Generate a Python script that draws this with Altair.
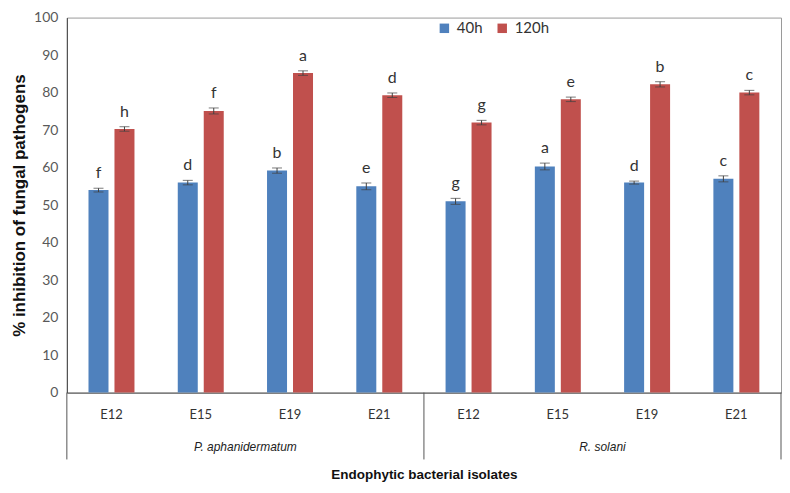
import altair as alt
import pandas as pd

pathogens = ["P. aphanidermatum", "R. solani"]
isolates = ["E12", "E15", "E19", "E21"]
series = ["40h", "120h"]

v40 = [54.0, 56.0, 59.2, 55.0, 51.0, 60.3, 56.0, 57.0]
v120 = [70.3, 75.1, 85.2, 79.3, 72.0, 78.2, 82.2, 80.0]
e40 = [0.5, 0.6, 0.7, 0.9, 0.8, 0.9, 0.4, 0.8]
e120 = [0.6, 0.8, 0.6, 0.6, 0.6, 0.6, 0.7, 0.6]
l40 = ["f", "d", "b", "e", "g", "a", "d", "c"]
l120 = ["h", "f", "a", "d", "g", "e", "b", "c"]
yticks = [0, 10, 20, 30, 40, 50, 60, 70, 80, 90, 100]

slots = [p + "|" + i for p in pathogens for i in isolates]

rows = []
for k, s in enumerate(slots):
    rows.append(dict(slot=s, series="40h", value=v40[k], lo=v40[k] - e40[k], hi=v40[k] + e40[k], letter=l40[k]))
    rows.append(dict(slot=s, series="120h", value=v120[k], lo=v120[k] - e120[k], hi=v120[k] + e120[k], letter=l120[k]))
df = pd.DataFrame(rows)

# group separators (slot index boundaries) and group centres
bounds = pd.DataFrame({"pos": [0, 4, 8]})
groups = pd.DataFrame({"center": [2, 6], "name": pathogens})

W, H = 716, 376

xenc = alt.X(
    "slot:N", sort=slots,
    scale=alt.Scale(paddingInner=0.485, paddingOuter=0.2425),
    axis=alt.Axis(
        title="Endophytic bacterial isolates",
        labelExpr="split(datum.value, '|')[1]",
        labelAngle=0, ticks=False, labelPadding=16,
        labelFont="Lato", labelFontSize=13, labelColor="#333333",
        titleFont="Liberation Sans", titleFontSize=13.5, titleFontWeight="bold",
        titleColor="#111111", titlePadding=46,
        domainColor="#555555", grid=False,
    ),
)
xoff = alt.XOffset("series:N", sort=series, scale=alt.Scale(paddingInner=0.23, paddingOuter=0))

yscale = alt.Scale(domain=[0, 100], nice=False)
yaxis = alt.Axis(
    title="% inhibition of fungal pathogens", values=yticks, labelOverlap=False,
    ticks=False, grid=False, labelPadding=9,
    labelFont="Lato", labelFontSize=14, labelColor="#595959",
    titleFont="Liberation Sans", titleFontSize=17, titleFontWeight="bold",
    titleColor="#111111", titlePadding=5, domainColor="#444444",
)

base = alt.Chart(df).encode(x=xenc, xOffset=xoff)

bars = base.mark_bar().encode(
    y=alt.Y("value:Q", scale=yscale, axis=yaxis),
    color=alt.Color(
        "series:N",
        scale=alt.Scale(domain=series, range=["#4F81BD", "#C0504D"]),
        legend=alt.Legend(
            title=None, orient="none", legendX=371, legendY=3, direction="horizontal",
            symbolType="square", symbolSize=90, symbolStrokeWidth=0,
            labelFont="Lato", labelFontSize=15, labelColor="#333333",
            columnPadding=12, labelOffset=5,
        ),
    ),
)

err = base.mark_rule(color="#404040", strokeWidth=1).encode(
    y=alt.Y("lo:Q", scale=yscale, axis=yaxis), y2="hi:Q"
)
cap_hi = base.mark_tick(color="#404040", size=10, thickness=1).encode(
    y=alt.Y("hi:Q", scale=yscale, axis=yaxis)
)
cap_lo = base.mark_tick(color="#404040", size=10, thickness=1).encode(
    y=alt.Y("lo:Q", scale=yscale, axis=yaxis)
)
letters = base.mark_text(dy=-15, font="Lato", fontSize=16, color="#333333").encode(
    y=alt.Y("hi:Q", scale=yscale, axis=yaxis), text="letter:N"
)

main = alt.layer(bars, err, cap_hi, cap_lo, letters)

seps = alt.Chart(bounds).mark_rule(color="#555555", strokeWidth=1).encode(
    x=alt.X("pos:Q", scale=alt.Scale(domain=[0, 8], nice=False), axis=None),
    y=alt.value(H),
    y2=alt.value(443),
)
gtext = alt.Chart(groups).mark_text(
    font="Liberation Sans", fontSize=12, fontStyle="italic", color="#222222", baseline="middle"
).encode(
    x=alt.X("center:Q", scale=alt.Scale(domain=[0, 8], nice=False), axis=None),
    y=alt.value(431),
    text="name:N",
)
annot = alt.layer(seps, gtext)

chart = (
    alt.layer(main, annot)
    .resolve_scale(x="independent")
    .properties(width=W, height=H, padding={"left": 2, "top": 2, "right": 0, "bottom": 0})
    .configure_view(stroke="#9a9a9a", strokeWidth=1)
)

chart.save("out.html", embed_options={"renderer": "svg", "actions": False})
